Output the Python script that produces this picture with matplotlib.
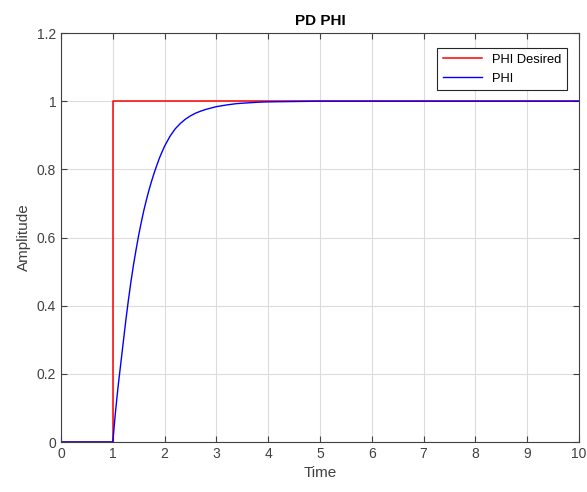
import matplotlib
matplotlib.use("Agg")
import matplotlib.pyplot as plt
from matplotlib.ticker import FuncFormatter

plt.rcParams['font.family'] = ['Liberation Sans', 'DejaVu Sans']

# desired step
t_des = [0, 1, 1, 10]
phi_des = [0, 0, 1, 1]

# response
t_phi = [0, 1.0, 1.05, 1.1, 1.15, 1.2, 1.25, 1.3, 1.35, 1.4, 1.45, 1.5, 1.55, 1.6,
         1.65, 1.7, 1.75, 1.8, 1.85, 1.9, 1.95, 2.0, 2.1, 2.2, 2.3, 2.4, 2.5, 2.6,
         2.7, 2.8, 2.9, 3.0, 3.2, 3.4, 3.6, 3.8, 4.0, 4.5, 5, 6, 7, 8, 9, 10]
phi = [0, 0, 0.085, 0.16, 0.225, 0.29, 0.355, 0.415, 0.47, 0.52, 0.565, 0.607, 0.645, 0.68,
       0.711, 0.74, 0.766, 0.79, 0.812, 0.833, 0.851, 0.868, 0.896, 0.918, 0.934, 0.947, 0.957, 0.965,
       0.971, 0.976, 0.98, 0.984, 0.989, 0.993, 0.995, 0.997, 0.998, 0.999, 1, 1, 1, 1, 1, 1]

fig = plt.figure(figsize=(5.87, 4.92), dpi=100)
ax = fig.add_axes([0.1039, 0.1016, 0.8825, 0.8313])

ax.plot(t_des, phi_des, color='#ff0000', linewidth=1.1, label='PHI Desired')
ax.plot(t_phi, phi, color='#0000ff', linewidth=1.0, label='PHI')

ax.set_xlim(0, 10)
ax.set_ylim(0, 1.2)
ax.set_xticks(range(0, 11))
ax.set_yticks([0, 0.2, 0.4, 0.6, 0.8, 1.0, 1.2])
ax.yaxis.set_major_formatter(FuncFormatter(lambda v, p: ('%g' % round(v, 2))))

ax.grid(True, color='#dcdcdc', linewidth=0.8)
ax.set_axisbelow(True)
ax.tick_params(direction='in', top=True, right=True, length=4, width=0.8,
               colors='#404040', labelsize=10)
for s in ax.spines.values():
    s.set_color('#404040')
    s.set_linewidth(0.8)

ax.set_xlabel('Time', fontsize=11, color='#404040')
ax.set_ylabel('Amplitude', fontsize=11, color='#404040')
ax.set_title('PD PHI', fontsize=11, fontweight='bold', color='#000000')

leg = ax.legend(loc='upper right', fontsize=9.3, fancybox=False, framealpha=1,
                edgecolor='#262626', handlelength=3, borderpad=0.45,
                borderaxespad=0, bbox_to_anchor=(0.977, 0.963))
leg.get_frame().set_linewidth(0.8)

fig.savefig('out.png', dpi=100)
